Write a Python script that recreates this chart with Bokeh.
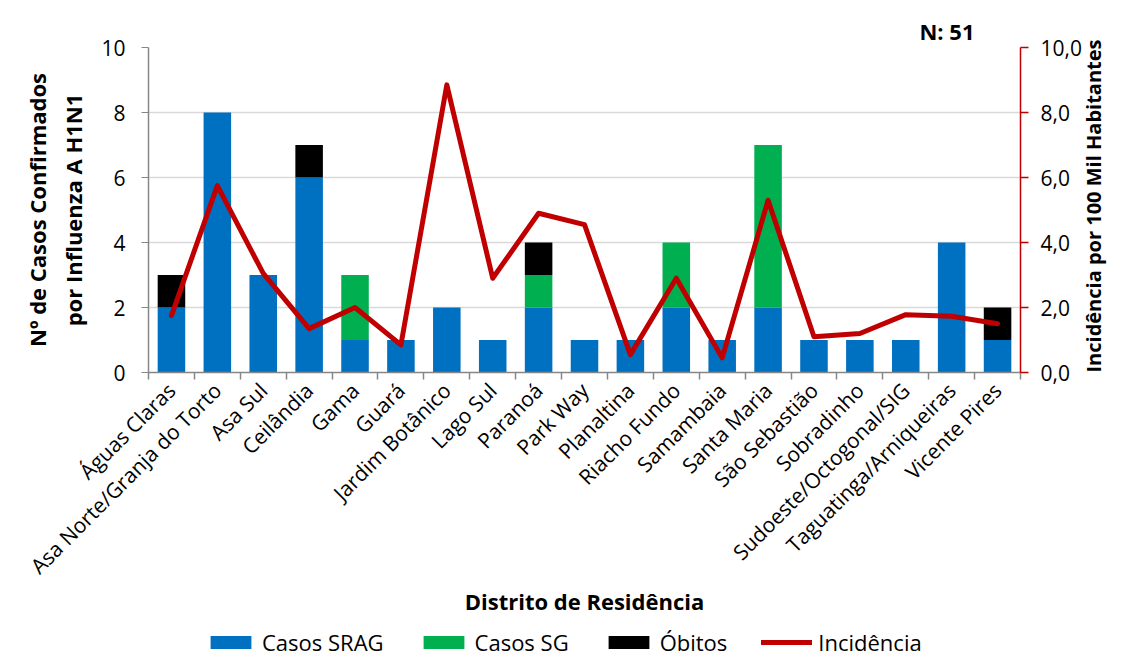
import math
from bokeh.plotting import figure
from bokeh.layouts import column
from bokeh.models import (ColumnDataSource, Range1d, LinearAxis, FixedTicker, Legend, LegendItem,
                          Title, CustomJSTickFormatter)
from bokeh.embed import file_html
from bokeh.resources import INLINE

distritos = ["Águas Claras", "Asa Norte/Granja do Torto", "Asa Sul", "Ceilândia", "Gama", "Guará",
             "Jardim Botânico", "Lago Sul", "Paranoá", "Park Way", "Planaltina", "Riacho Fundo",
             "Samambaia", "Santa Maria", "São Sebastião", "Sobradinho", "Sudoeste/Octogonal/SIG",
             "Taguatinga/Arniqueiras", "Vicente Pires"]
casos_srag = [2, 8, 3, 6, 1, 1, 2, 1, 2, 1, 1, 2, 1, 2, 1, 1, 1, 4, 1]
casos_sg = [0, 0, 0, 0, 2, 0, 0, 0, 1, 0, 0, 2, 0, 5, 0, 0, 0, 0, 0]
obitos = [1, 0, 0, 1, 0, 0, 0, 0, 1, 0, 0, 0, 0, 0, 0, 0, 0, 0, 1]
incidencia = [1.75, 5.75, 3.05, 1.35, 2.0, 0.85, 8.85, 2.9, 4.9, 4.55, 0.55, 2.9, 0.45, 5.3,
              1.1, 1.2, 1.78, 1.73, 1.5]
left_ticks = [0, 2, 4, 6, 8, 10]
right_ticks = [0, 2, 4, 6, 8, 10]
right_tick_labels = ["0,0", "2,0", "4,0", "6,0", "8,0", "10,0"]
n_total = "N: 51"

FONT = "Open Sans"
GRAY = "#868686"
CORES = ["#0070C0", "#00B050", "#000000"]
VERMELHO = "#C00000"

n = len(distritos)
posicao = [i + 0.5 for i in range(n)]   # band centres on a numeric axis
limites = list(range(n + 1))            # band boundaries

source = ColumnDataSource(data=dict(x=posicao, distrito=distritos, srag=casos_srag, sg=casos_sg,
                                    obitos=obitos, inc=incidencia))

p = figure(width=1123, height=622, x_range=Range1d(0, n), y_range=Range1d(0, 10),
           output_backend="svg", toolbar_location=None, x_axis_location=None,
           min_border_left=148, min_border_right=99, min_border_top=47, min_border_bottom=250)
p.outline_line_color = None
p.xgrid.visible = False
p.extra_y_ranges = {"inc": Range1d(0, 10)}

bars = p.vbar_stack(["srag", "sg", "obitos"], x="x", width=0.6, source=source,
                    color=CORES, line_color=None)
line = p.line(x="x", y="inc", source=source, y_range_name="inc", line_color=VERMELHO,
              line_width=5, line_join="round", line_cap="round")

# grid
p.ygrid.ticker = FixedTicker(ticks=left_ticks[1:])
p.ygrid.grid_line_color = "#D9D9D9"
p.ygrid.grid_line_width = 1.5

# left axis
ya = p.yaxis[0]
ya.ticker = FixedTicker(ticks=left_ticks)
ya.minor_tick_line_color = None
ya.major_tick_in = 0
ya.major_tick_out = 7
ya.axis_line_color = GRAY
ya.major_tick_line_color = GRAY
ya.axis_line_width = 1.5
ya.major_label_text_font = FONT
ya.major_label_text_font_size = "21px"
ya.major_label_text_color = "#000000"
ya.major_label_standoff = 16
ya.axis_label = "Nº de Casos Confirmados\npor Influenza A H1N1"
ya.axis_label_text_font = FONT
ya.axis_label_text_font_size = "22px"
ya.axis_label_text_font_style = "bold"
ya.axis_label_text_color = "#000000"
ya.axis_label_standoff = 10

# right axis
ra = LinearAxis(y_range_name="inc", ticker=FixedTicker(ticks=right_ticks),
                major_label_overrides={t: s for t, s in zip(right_ticks, right_tick_labels)})
ra.minor_tick_line_color = None
ra.major_tick_in = 0
ra.major_tick_out = 8
ra.axis_line_color = VERMELHO
ra.major_tick_line_color = VERMELHO
ra.axis_line_width = 1.5
ra.major_tick_line_width = 1.5
ra.major_label_text_font = FONT
ra.major_label_text_font_size = "21px"
ra.major_label_text_color = "#000000"
ra.major_label_standoff = 12
ra.axis_label = "Incidência por 100 Mil Habitantes"
ra.axis_label_text_font = FONT
ra.axis_label_text_font_size = "20px"
ra.axis_label_text_font_style = "bold"
ra.axis_label_text_color = "#000000"
ra.axis_label_standoff = 9
if hasattr(ra, "axis_label_orientation"):
    ra.axis_label_orientation = math.pi / 2
if hasattr(ra, "axis_label_align"):
    ra.axis_label_align = "start"
p.add_layout(ra, "right")

# category axis: labels at band centres, small ticks at band boundaries
ca = LinearAxis(ticker=FixedTicker(ticks=posicao, minor_ticks=limites),
                formatter=CustomJSTickFormatter(args=dict(nomes=distritos),
                                                code="return nomes[Math.floor(tick)];"))
ca.axis_line_color = GRAY
ca.axis_line_width = 1.5
ca.major_tick_line_color = None
ca.major_tick_out = 0
ca.major_tick_in = 0
ca.minor_tick_line_color = GRAY
ca.minor_tick_line_width = 1.5
ca.minor_tick_in = 0
ca.minor_tick_out = 7
ca.major_label_orientation = math.pi / 4
ca.major_label_text_font = FONT
ca.major_label_text_font_size = "21px"
ca.major_label_text_color = "#000000"
ca.major_label_standoff = 7
ca.axis_label = "Distrito de Residência"
ca.axis_label_text_font = FONT
ca.axis_label_text_font_size = "22px"
ca.axis_label_text_font_style = "bold"
ca.axis_label_text_color = "#000000"
ca.axis_label_standoff = -6
p.add_layout(ca, "below")

# N label
p.add_layout(Title(text=n_total, align="right", offset=46, standoff=4, text_font=FONT,
                   text_font_size="22px", text_font_style="bold", text_color="#000000"), "above")

# legend strip below the chart (its own small figure so nothing is clipped);
# its renderers reuse the real data but are hidden, only their legend swatches show
leg = figure(width=1123, height=35, x_range=Range1d(0, 1), y_range=Range1d(0, 1),
             output_backend="svg", toolbar_location=None, x_axis_location=None,
             y_axis_location=None, min_border=0)
leg.outline_line_color = None
leg.grid.visible = False
r_stack = leg.vbar_stack(["srag", "sg", "obitos"], x="x", width=0.6, source=source,
                         color=CORES, line_color=None)
r_inc = leg.line(x="x", y="inc", source=source, line_color=VERMELHO, line_width=5,
                 line_cap="round")
for r in list(r_stack) + [r_inc]:
    r.visible = False

legend = Legend(items=[LegendItem(label="Casos SRAG", renderers=[r_stack[0]]),
                       LegendItem(label="Casos SG", renderers=[r_stack[1]]),
                       LegendItem(label="Óbitos", renderers=[r_stack[2]]),
                       LegendItem(label="Incidência", renderers=[r_inc])],
                orientation="horizontal", location=(57, 0), padding=0, margin=0,
                spacing=34, glyph_width=51, glyph_height=16, label_standoff=6,
                label_text_font=FONT, label_text_font_size="22px", label_text_color="#000000",
                border_line_color=None, background_fill_alpha=0,
                inactive_fill_alpha=0)
leg.add_layout(legend, "center")

layout = column(p, leg, spacing=0)
open("out.html", "w").write(file_html(layout, INLINE))
